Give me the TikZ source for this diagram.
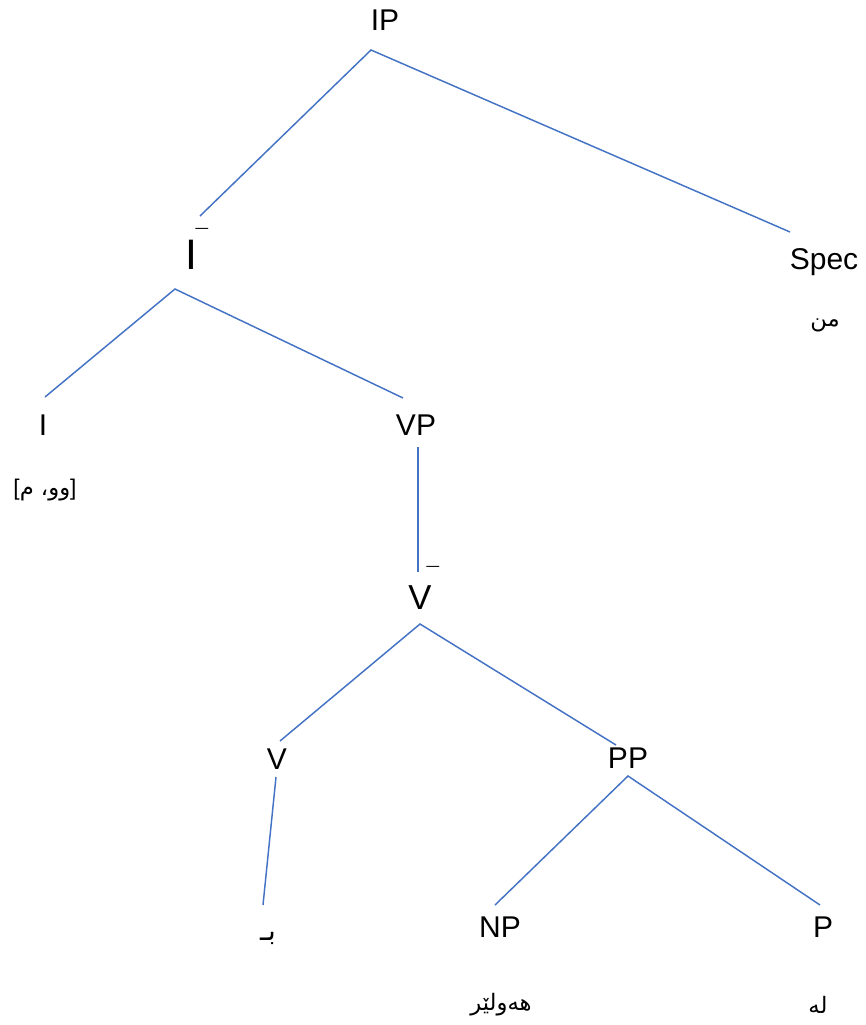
\documentclass[tikz,border=0pt]{standalone}
\usepackage{fontspec}
\setmainfont{Liberation Sans}
\newfontfamily\arabicfont[Script=Arabic]{DejaVu Sans}
\TeXXeTstate=1
\definecolor{treeblue}{RGB}{68,114,196}
\begin{document}
\begin{tikzpicture}[x=0.75pt,y=-0.75pt,
  lbl/.style={inner sep=0pt, font=\fontsize{22.5}{27}\selectfont},
  big/.style={inner sep=0pt, font=\fontsize{32}{38}\selectfont},
  mid/.style={inner sep=0pt, font=\fontsize{26}{31}\selectfont},
  barmark/.style={inner sep=0pt, anchor=north, font=\fontsize{17}{20}\selectfont},
  ar/.style={inner sep=0pt, font=\fontsize{17}{20}\selectfont},
  branch/.style={draw=treeblue, line width=1.1pt}]
\path[use as bounding box, fill=white] (0,0) rectangle (866,1025);
% labels
\node[lbl] (IP) at (385,20) {IP};
\node[big] (Ibar) at (191,255) {I};
\node[barmark] (Ibarm) at (202,228) {¯};
\node[lbl] (Spec) at (824,262) {Spec};
\node[ar] (min) at (825,325) {\arabicfont\beginR من\endR};
\node[lbl] (I) at (43,425) {I};
\node[ar] (infl) at (45,490) {{[}{\arabicfont\beginR وو، م\endR}{]}};
\node[lbl] (VP) at (416,425) {VP};
\node[mid] (Vbar) at (420,598) {V};
\node[barmark] (Vbarm) at (433,566) {¯};
\node[lbl] (V) at (277,759) {V};
\node[ar] (be) at (268,938) {\arabicfont\fontsize{21}{24}\selectfont\beginR بـ\endR};
\node[lbl] (PP) at (628,758) {PP};
\node[lbl] (NP) at (500,927) {NP};
\node[lbl] (P) at (823,927) {P};
\node[ar] (hewler) at (501,1005) {\arabicfont\beginR هەولێر\endR};
\node[ar] (le) at (818,1005) {\arabicfont\beginR لە\endR};
% branch end points
\coordinate (IPb) at (371,50);
\coordinate (Ibart) at (200,216);
\coordinate (Spect) at (790,232);
\coordinate (Ibarb) at (175,289);
\coordinate (It) at (45,397);
\coordinate (VPt) at (403,398);
\coordinate (VPb) at (418,447);
\coordinate (Vbart) at (418,572);
\coordinate (Vbarb) at (420,624);
\coordinate (Vt) at (280,741);
\coordinate (PPt) at (616,745);
\coordinate (Vb) at (276,777);
\coordinate (bet) at (263,905);
\coordinate (PPb) at (628,776);
\coordinate (NPt) at (495,905);
\coordinate (Pt) at (820,905);
% branches
\draw[branch] (Ibart) -- (IPb) -- (Spect);
\draw[branch] (It) -- (Ibarb) -- (VPt);
\draw[branch] (VPb) -- (Vbart);
\draw[branch] (Vt) -- (Vbarb) -- (PPt);
\draw[branch] (Vb) -- (bet);
\draw[branch] (NPt) -- (PPb) -- (Pt);
\end{tikzpicture}
\end{document}
